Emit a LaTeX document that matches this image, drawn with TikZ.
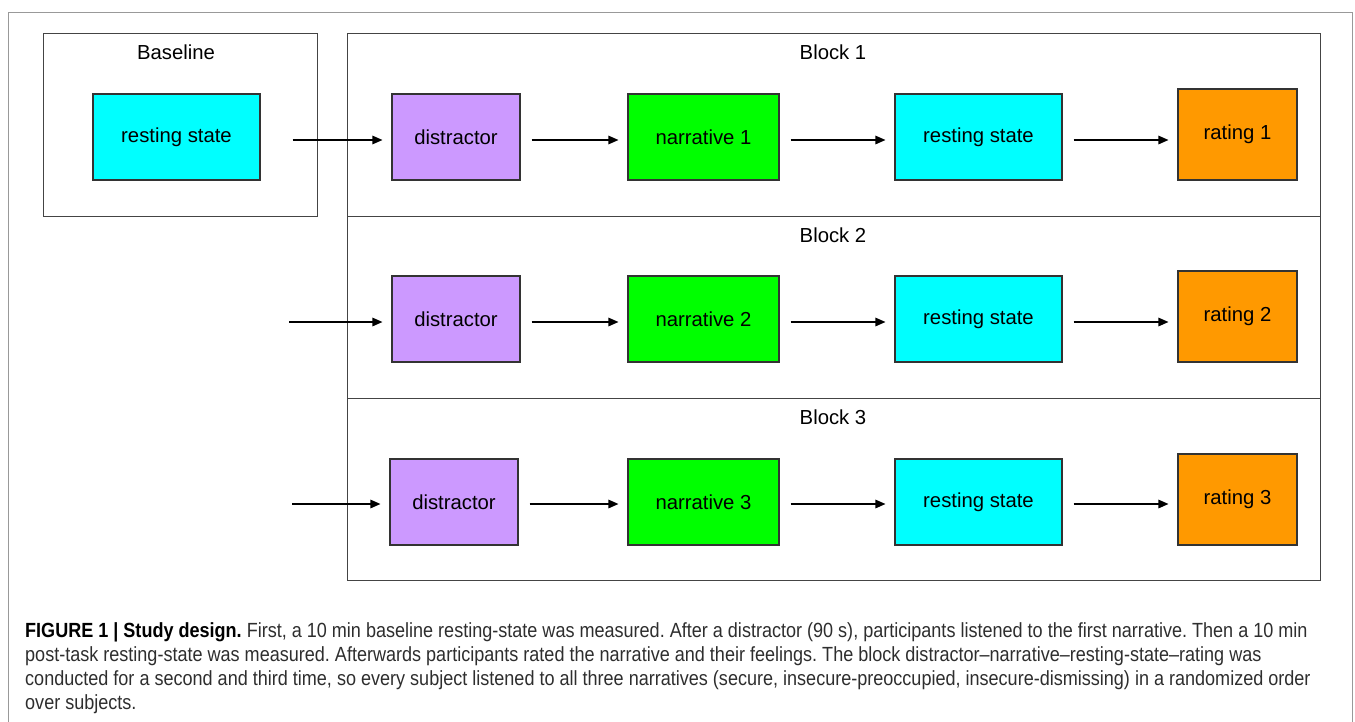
\documentclass[tikz,border=0pt]{standalone}
\usepackage{fontspec}
\setmainfont{Liberation Sans}
\newfontfamily\capfont[FakeStretch=0.88]{Liberation Sans}
\usetikzlibrary{arrows.meta}
\definecolor{cyanbox}{HTML}{00FFFF}
\definecolor{purplebox}{HTML}{CC99FF}
\definecolor{greenbox}{HTML}{00FF00}
\definecolor{orangebox}{HTML}{FF9900}
\definecolor{boxline}{HTML}{333333}
\definecolor{frameline}{HTML}{444444}
\definecolor{captext}{HTML}{2E2E2E}
\frenchspacing
\tikzset{
  every node/.style={font=\fontsize{20.3}{24}\selectfont, text=black},
  stagebox/.style={draw=boxline, line width=1.1pt, inner sep=0pt},
  restbox/.style={stagebox, fill=cyanbox, minimum width=167, minimum height=86},
  disbox/.style={stagebox, fill=purplebox, minimum width=128, minimum height=86},
  narbox/.style={stagebox, fill=greenbox, minimum width=151, minimum height=86},
  ratebox/.style={stagebox, fill=orangebox, minimum width=119, minimum height=91},
  groupbox/.style={draw=frameline, line width=1pt},
  flow/.style={line width=1.3pt, -{Triangle[length=10pt,width=8.5pt]}, shorten <=11pt, shorten >=9pt},
  capline/.style={anchor=base west, inner sep=0pt, font=\capfont\fontsize{20.5}{24}\selectfont, text=captext},
}
\begin{document}
\begin{tikzpicture}[x=1pt,y=-1pt]
\useasboundingbox (0,0) rectangle (1355,721);
% outer frame
\draw[draw=gray!80, line width=0.8pt] (8,722) -- (8,12) -- (1352,12) -- (1352,722);
% group boxes
\draw[groupbox] (43,33) rectangle (317,216);
\draw[groupbox] (347,33) rectangle (1320,216);
\draw[groupbox] (347,216) rectangle (1320,398);
\draw[groupbox] (347,398) rectangle (1320,580);
\node (lbase) at (176,52) {Baseline};
\node (lb1) at (833,52) {Block 1};
\node (lb2) at (833,235) {Block 2};
\node (lb3) at (833,417) {Block 3};
% baseline
\node[restbox] (rest0) at (176.5,137) {resting state};
% block 1
\node[disbox] (dis1) at (456,137) {distractor};
\node[narbox] (nar1) at (703.5,137) {narrative 1};
\node[restbox] (rest1) at (978.5,137) {resting state};
\node[ratebox] (rate1) at (1237.5,134.5) {rating 1};
% block 2
\node[disbox] (dis2) at (456,319) {distractor};
\node[narbox] (nar2) at (703.5,319) {narrative 2};
\node[restbox] (rest2) at (978.5,319) {resting state};
\node[ratebox] (rate2) at (1237.5,316.5) {rating 2};
% block 3
\node[disbox] (dis3) at (454,502) {distractor};
\node[narbox] (nar3) at (703.5,502) {narrative 3};
\node[restbox] (rest3) at (978.5,502) {resting state};
\node[ratebox] (rate3) at (1237.5,499.5) {rating 3};
% start points
\coordinate (in2) at (289,322);
\coordinate (in3) at (292,504);
% arrows
\draw[flow, shorten <=32pt] ([yshift=-3pt]rest0.east) -- ([yshift=-3pt]rest0.east -| dis1.west);
\draw[flow] ([yshift=-3pt]dis1.east) -- ([yshift=-3pt]dis1.east -| nar1.west);
\draw[flow] ([yshift=-3pt]nar1.east) -- ([yshift=-3pt]nar1.east -| rest1.west);
\draw[flow] ([yshift=-3pt]rest1.east) -- ([yshift=-3pt]rest1.east -| rate1.west);
\draw[flow, shorten <=0pt] (in2) -- (in2 -| dis2.west);
\draw[flow] ([yshift=-3pt]dis2.east) -- ([yshift=-3pt]dis2.east -| nar2.west);
\draw[flow] ([yshift=-3pt]nar2.east) -- ([yshift=-3pt]nar2.east -| rest2.west);
\draw[flow] ([yshift=-3pt]rest2.east) -- ([yshift=-3pt]rest2.east -| rate2.west);
\draw[flow, shorten <=0pt] (in3) -- (in3 -| dis3.west);
\draw[flow] ([yshift=-2pt]dis3.east) -- ([yshift=-2pt]dis3.east -| nar3.west);
\draw[flow] ([yshift=-2pt]nar3.east) -- ([yshift=-2pt]nar3.east -| rest3.west);
\draw[flow] ([yshift=-2pt]rest3.east) -- ([yshift=-2pt]rest3.east -| rate3.west);
% caption
\node[capline] (cap1) at (25,637) {{\bfseries\color{black}FIGURE 1 | Study design.} First, a 10 min baseline resting-state was measured. After a distractor (90 s), participants listened to the first narrative. Then a 10 min};
\node[capline] (cap2) at (25,661) {post-task resting-state was measured. Afterwards participants rated the narrative and their feelings. The block distractor–narrative–resting-state–rating was};
\node[capline] (cap3) at (25,685) {conducted for a second and third time, so every subject listened to all three narratives (secure, insecure-preoccupied, insecure-dismissing) in a randomized order};
\node[capline] (cap4) at (25,709) {over subjects.};
\end{tikzpicture}
\end{document}
